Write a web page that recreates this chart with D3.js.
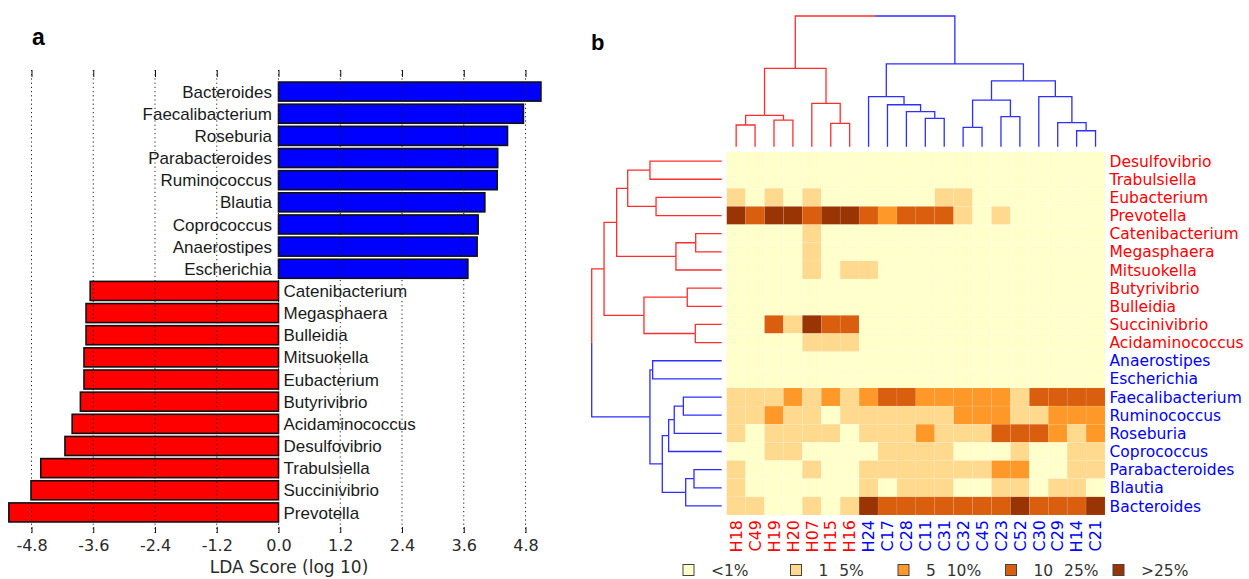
<!DOCTYPE html>
<html>
<head>
<meta charset="utf-8">
<script src="https://cdn.jsdelivr.net/npm/d3@7/dist/d3.min.js"></script>
<style>
body { margin: 0; background: #fff; }
</style>
</head>
<body>
<svg id="chart" width="1249" height="579"></svg>
<script>
// ---- panel a : LDA scores ----
var ldaTaxa = ["Bacteroides", "Faecalibacterium", "Roseburia", "Parabacteroides", "Ruminococcus",
  "Blautia", "Coprococcus", "Anaerostipes", "Escherichia", "Catenibacterium", "Megasphaera",
  "Bulleidia", "Mitsuokella", "Eubacterium", "Butyrivibrio", "Acidaminococcus", "Desulfovibrio",
  "Trabulsiella", "Succinivibrio", "Prevotella"];
var ldaScores = [5.10, 4.76, 4.45, 4.26, 4.25, 4.01, 3.88, 3.86, 3.68,
  -3.66, -3.74, -3.74, -3.78, -3.78, -3.85, -4.01, -4.15, -4.62, -4.81, -5.24];
var ldaTicks = [-4.8, -3.6, -2.4, -1.2, 0, 1.2, 2.4, 3.6, 4.8];

// ---- panel b : heatmap ----
var sampleIds = ["H18", "C49", "H19", "H20", "H07", "H15", "H16", "H24", "C17", "C28",
  "C11", "C31", "C32", "C45", "C23", "C52", "C30", "C29", "H14", "C21"];
var sampleCluster = [0, 0, 0, 0, 0, 0, 0, 1, 1, 1, 1, 1, 1, 1, 1, 1, 1, 1, 1, 1];
var genera = ["Desulfovibrio", "Trabulsiella", "Eubacterium", "Prevotella", "Catenibacterium",
  "Megasphaera", "Mitsuokella", "Butyrivibrio", "Bulleidia", "Succinivibrio", "Acidaminococcus",
  "Anaerostipes", "Escherichia", "Faecalibacterium", "Ruminococcus", "Roseburia", "Coprococcus",
  "Parabacteroides", "Blautia", "Bacteroides"];
var generaCluster = [0, 0, 0, 0, 0, 0, 0, 0, 0, 0, 0, 1, 1, 1, 1, 1, 1, 1, 1, 1];
// abundance class per genus (row) and sample (column): 0 <1%, 1 1-5%, 2 5-10%, 3 10-25%, 4 >25%
var abundance = [
  [0,0,0,0,0,0,0,0,0,0,0,0,0,0,0,0,0,0,0,0],
  [0,0,0,0,0,0,0,0,0,0,0,0,0,0,0,0,0,0,0,0],
  [1,0,1,0,1,0,0,0,0,0,0,1,1,0,0,0,0,0,0,0],
  [4,3,4,4,3,4,4,3,2,3,3,3,1,0,1,0,0,0,0,0],
  [0,0,0,0,1,0,0,0,0,0,0,0,0,0,0,0,0,0,0,0],
  [0,0,0,0,1,0,0,0,0,0,0,0,0,0,0,0,0,0,0,0],
  [0,0,0,0,1,0,1,1,0,0,0,0,0,0,0,0,0,0,0,0],
  [0,0,0,0,0,0,0,0,0,0,0,0,0,0,0,0,0,0,0,0],
  [0,0,0,0,0,0,0,0,0,0,0,0,0,0,0,0,0,0,0,0],
  [0,0,3,1,4,3,3,0,0,0,0,0,0,0,0,0,0,0,0,0],
  [0,0,0,0,1,1,1,0,0,0,0,0,0,0,0,0,0,0,0,0],
  [0,0,0,0,0,0,0,0,0,0,0,0,0,0,0,0,0,0,0,0],
  [0,0,0,0,0,0,0,0,0,0,0,0,0,0,0,0,0,0,0,0],
  [1,1,1,2,1,2,1,2,3,3,2,2,2,2,2,1,3,3,3,3],
  [1,1,2,1,1,0,1,1,1,1,1,1,2,2,2,1,1,2,2,2],
  [1,0,1,1,1,1,0,1,1,1,2,1,1,1,3,3,3,2,1,2],
  [0,0,1,1,0,0,0,0,1,1,1,1,0,0,0,1,0,0,1,1],
  [1,0,0,0,1,0,0,1,1,1,1,1,1,1,2,2,0,0,1,1],
  [1,0,0,0,0,0,0,1,0,1,1,1,0,0,1,1,0,1,1,0],
  [1,1,0,0,1,0,1,4,3,3,3,3,3,3,3,4,3,3,3,4]
];
var abundanceLabels = ["<1%", "1\u2002\u20095%", "5\u2002\u200910%", "10\u2002\u200925%", ">25%"];
var abundanceColors = ["#ffffcc", "#fed98e", "#fe9929", "#d95f0e", "#993404"];

// hclust style merges: negative = leaf (1-based), positive = earlier merge, then height
var colMerges = [
  [-1, -2, 0.166], [-3, -4, 0.204], [1, 2, 0.240], [-6, -7, 0.179], [-5, 4, 0.332],
  [3, 5, 0.600], [-11, -12, 0.217], [-10, 7, 0.268], [-9, 8, 0.321], [-8, 9, 0.383],
  [-13, -14, 0.148], [-15, -16, 0.230], [11, 12, 0.357], [-19, -20, 0.122], [-18, 14, 0.184],
  [-17, 15, 0.383], [13, 16, 0.503], [10, 17, 0.633], [6, 18, 1.0]
];
var rowMerges = [
  [-1, -2, 0.552], [-3, -4, 0.505], [1, 2, 0.723], [-5, -6, 0.200], [4, -7, 0.352],
  [3, 5, 0.808], [-8, -9, 0.265], [-10, -11, 0.203], [7, 8, 0.598], [6, 9, 0.905],
  [-12, -13, 0.531], [-14, -15, 0.295], [12, -16, 0.365], [13, -17, 0.408], [-18, -19, 0.213],
  [15, -20, 0.277], [14, 16, 0.457], [11, 17, 0.552], [10, 18, 1.0]
];

var svg = d3.select("#chart");
var sans = "'Liberation Sans', Arial, sans-serif";
var vera = "'DejaVu Sans', sans-serif";
var clusterColors = ["#ff2e2e", "#2e2eff"];
var labelColors = ["#ff0000", "#0000ff"];

// ================= panel a =================
var x = d3.scaleLinear().domain([-4.8, 4.8]).range([31.5, 525.5]);
var y = d3.scaleBand().domain(ldaTaxa).range([80.5, 523.5]).paddingInner(0.14).paddingOuter(0.07);

var pa = svg.append("g");

pa.selectAll("rect.bar")
  .data(ldaTaxa)
  .enter()
  .append("rect")
  .attr("class", "bar")
  .attr("x", function(d, i) { return Math.min(x(0), x(ldaScores[i])); })
  .attr("y", function(d) { return y(d); })
  .attr("width", function(d, i) { return Math.abs(x(ldaScores[i]) - x(0)); })
  .attr("height", y.bandwidth())
  .attr("fill", function(d, i) { return ldaScores[i] > 0 ? "#0000ff" : "#ff0000"; })
  .attr("stroke", "#111")
  .attr("stroke-width", 1.6);

pa.selectAll("text.taxon")
  .data(ldaTaxa)
  .enter()
  .append("text")
  .attr("class", "taxon")
  .attr("x", function(d, i) { return ldaScores[i] > 0 ? x(0) - 6.5 : x(0) + 5; })
  .attr("y", function(d) { return y(d) + y.bandwidth() / 2; })
  .attr("dy", "0.36em")
  .attr("text-anchor", function(d, i) { return ldaScores[i] > 0 ? "end" : "start"; })
  .style("font-family", sans)
  .style("font-size", "17px")
  .style("fill", "#1a1a1a")
  .text(function(d) { return d; });

// dotted grid on top of the bars
pa.selectAll("line.grid")
  .data(ldaTicks)
  .enter()
  .append("line")
  .attr("class", "grid")
  .attr("x1", function(d) { return x(d); })
  .attr("x2", function(d) { return x(d); })
  .attr("y1", 70)
  .attr("y2", 533)
  .attr("stroke", "#222")
  .attr("stroke-width", 1)
  .attr("stroke-dasharray", "1.2,3");

var axB = pa.append("g")
  .attr("transform", "translate(0,533)")
  .call(d3.axisBottom(x).tickValues(ldaTicks).tickSize(-6).tickPadding(7)
    .tickFormat(function(d) { return d.toFixed(1); }));
axB.select(".domain").remove();
axB.selectAll("text").style("font-family", vera).style("font-size", "16px").style("fill", "#2a2a2a");
axB.selectAll("line").attr("stroke", "#111");

var axT = pa.append("g")
  .attr("transform", "translate(0,70)")
  .call(d3.axisTop(x).tickValues(ldaTicks).tickSize(-7).tickFormat(""));
axT.select(".domain").remove();
axT.selectAll("line").attr("stroke", "#111");

pa.append("text")
  .attr("x", 289)
  .attr("y", 567)
  .attr("dy", "0.36em")
  .attr("text-anchor", "middle")
  .style("font-family", vera)
  .style("font-size", "17px")
  .style("fill", "#2a2a2a")
  .text("LDA Score (log 10)");

svg.append("text").attr("x", 32).attr("y", 45)
  .style("font-family", sans).style("font-weight", "bold").style("font-size", "23px")
  .text("a");
svg.append("text").attr("x", 591).attr("y", 50)
  .style("font-family", sans).style("font-weight", "bold").style("font-size", "22px")
  .text("b");

// ================= panel b =================
var colX = d3.scaleBand().domain(sampleIds).range([726.7, 1105]);
var rowY = d3.scaleBand().domain(genera).range([152, 515]);

var pb = svg.append("g");

var cells = [];
abundance.forEach(function(row, r) {
  row.forEach(function(v, c) { cells.push({ r: r, c: c, v: v }); });
});

pb.selectAll("rect.cell")
  .data(cells)
  .enter()
  .append("rect")
  .attr("class", "cell")
  .attr("x", function(d) { return colX(sampleIds[d.c]); })
  .attr("y", function(d) { return rowY(genera[d.r]); })
  .attr("width", colX.bandwidth())
  .attr("height", rowY.bandwidth())
  .attr("fill", function(d) { return abundanceColors[d.v]; })
  .attr("stroke", "#ffffff")
  .attr("stroke-opacity", 0.12)
  .attr("stroke-width", 0.6);

pb.selectAll("text.genus")
  .data(genera)
  .enter()
  .append("text")
  .attr("class", "genus")
  .attr("x", 1109.5)
  .attr("y", function(d) { return rowY(d) + rowY.bandwidth() / 2; })
  .attr("dy", "0.36em")
  .style("font-family", vera)
  .style("font-size", "15.5px")
  .style("fill", function(d, i) { return labelColors[generaCluster[i]]; })
  .text(function(d) { return d; });

pb.selectAll("text.sample")
  .data(sampleIds)
  .enter()
  .append("text")
  .attr("class", "sample")
  .attr("transform", function(d) {
    return "translate(" + (colX(d) + colX.bandwidth() / 2) + ",520) rotate(-90)";
  })
  .attr("dy", "0.36em")
  .attr("text-anchor", "end")
  .style("font-family", vera)
  .style("font-size", "16px")
  .style("fill", function(d, i) { return labelColors[sampleCluster[i]]; })
  .text(function(d) { return d; });

// dendrograms
function buildTree(merges, leafCluster) {
  var nodes = [];
  function ref(k) {
    if (k < 0) return { pos: -k - 1, height: 0, leaves: [-k - 1] };
    return nodes[k - 1];
  }
  merges.forEach(function(m) {
    var a = ref(m[0]), b = ref(m[1]);
    nodes.push({ children: [a, b], height: m[2], pos: (a.pos + b.pos) / 2, leaves: a.leaves.concat(b.leaves) });
  });
  function cl(n) {
    var s = d3.extent(n.leaves, function(l) { return leafCluster[l]; });
    return s[0] === s[1] ? s[0] : -1;
  }
  var segs = [];
  nodes.forEach(function(n) {
    n.children.forEach(function(c) {
      segs.push({ child: c, parent: n, cluster: cl(c) });
    });
  });
  return segs;
}

var colPos = d3.scaleLinear().domain([0, sampleIds.length - 1])
  .range([colX(sampleIds[0]) + colX.bandwidth() / 2, colX(sampleIds[sampleIds.length - 1]) + colX.bandwidth() / 2]);
var colH = d3.scaleLinear().domain([0, 1]).range([146.7, 16]);
var rowPos = d3.scaleLinear().domain([0, genera.length - 1])
  .range([rowY(genera[0]) + rowY.bandwidth() / 2, rowY(genera[genera.length - 1]) + rowY.bandwidth() / 2]);
var rowH = d3.scaleLinear().domain([0, 1]).range([721.7, 591.7]);

var line = d3.line();

pb.selectAll("path.coldend")
  .data(buildTree(colMerges, sampleCluster))
  .enter()
  .append("path")
  .attr("class", "coldend")
  .attr("d", function(s) {
    return line([
      [colPos(s.child.pos), colH(s.child.height)],
      [colPos(s.child.pos), colH(s.parent.height)],
      [colPos(s.parent.pos), colH(s.parent.height)]
    ]);
  })
  .attr("fill", "none")
  .attr("stroke", function(s) { return clusterColors[s.cluster]; })
  .attr("stroke-width", 1.3);

pb.selectAll("path.rowdend")
  .data(buildTree(rowMerges, generaCluster))
  .enter()
  .append("path")
  .attr("class", "rowdend")
  .attr("d", function(s) {
    return line([
      [rowH(s.child.height), rowPos(s.child.pos)],
      [rowH(s.parent.height), rowPos(s.child.pos)],
      [rowH(s.parent.height), rowPos(s.parent.pos)]
    ]);
  })
  .attr("fill", "none")
  .attr("stroke", function(s) { return clusterColors[s.cluster]; })
  .attr("stroke-width", 1.3);

// legend
var legX = d3.scaleLinear().domain([0, 4]).range([683, 1113]);
var leg = pb.selectAll("g.leg")
  .data(abundanceLabels)
  .enter()
  .append("g")
  .attr("class", "leg")
  .attr("transform", function(d, i) { return "translate(" + legX(i) + ",570)"; });
leg.append("rect")
  .attr("x", 0).attr("y", -5.5).attr("width", 11).attr("height", 11)
  .attr("fill", function(d, i) { return abundanceColors[i]; })
  .attr("stroke", "#444").attr("stroke-width", 1);
leg.append("text")
  .attr("x", 28)
  .attr("dy", "0.36em")
  .style("font-family", vera)
  .style("font-size", "15.5px")
  .style("fill", "#333")
  .text(function(d) { return d; });
</script>
</body>
</html>
